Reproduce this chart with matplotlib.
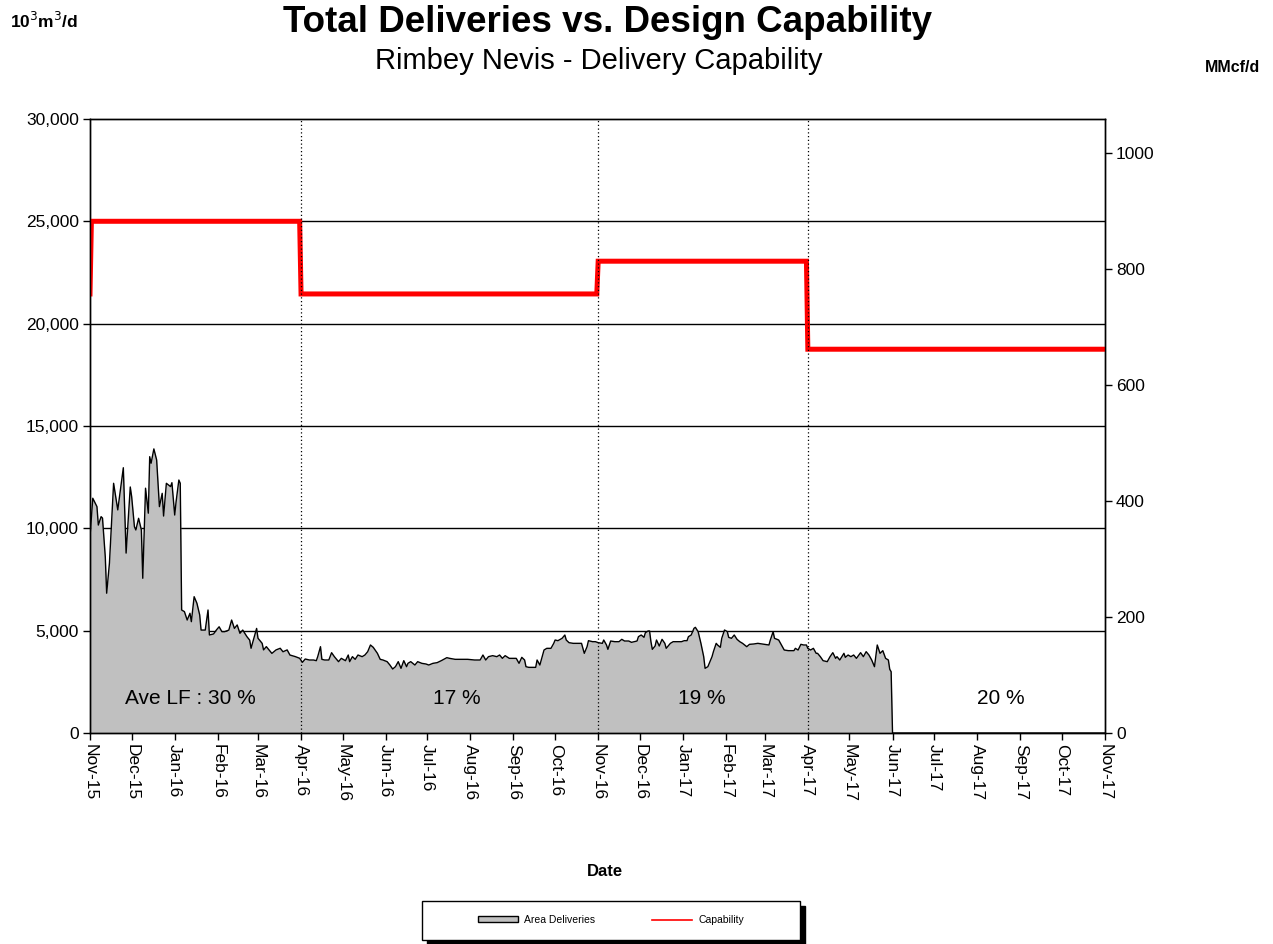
import numpy as np
import matplotlib.pyplot as plt
import matplotlib.dates as mdates
from matplotlib.patches import Rectangle, Patch
from matplotlib.lines import Line2D
from matplotlib.ticker import FuncFormatter, MultipleLocator

plt.rcParams['font.family'] = ['Liberation Sans', 'DejaVu Sans']

# dias contados desde el 1 de noviembre de 2015
inicio = np.datetime64('2015-11-01')
fin = np.datetime64('2017-11-01')

dias_entrega = [
    0, 2, 5, 6, 8, 9, 11, 12, 14, 17, 20, 24, 26, 29, 30, 32, 33, 35, 37, 38,
    40, 42, 43, 44, 46, 48, 50, 52, 53, 55, 58, 59, 61, 62, 64, 65, 66, 68, 70, 72,
    73, 75, 77, 79, 80, 83, 85, 86, 89, 91, 93, 95, 97, 100, 102, 104, 106, 108, 110, 113,
    115, 116, 118, 120, 121, 124, 125, 127, 131, 134, 137, 139, 142, 144, 148, 151,
    153, 155, 158, 161, 163, 164, 166, 167, 169, 172, 174, 176, 179, 181, 184, 186, 187, 189,
    191, 193, 196, 198, 200, 202, 204, 207, 209, 211, 214, 216, 218, 220, 222, 224, 226, 228,
    229, 231, 234, 236, 239, 242, 244, 247, 250, 253, 257, 259,
    263, 268, 272, 277, 281, 283, 285, 287, 290, 293, 295, 297, 299, 302, 305, 307, 309, 311,
    313, 314, 316, 319, 321, 322, 324, 327, 329, 332, 334, 335, 337, 340, 342, 343, 345, 348,
    352, 354, 356, 358, 359, 362, 364, 366,
    369, 370, 372, 373, 375, 378, 381, 383, 385, 388, 390, 394, 395, 397, 399, 400, 402, 403,
    404, 405, 407, 408, 410, 412, 414, 415, 418, 420, 424, 426, 428, 430, 431, 433, 435, 436,
    438, 440, 442, 443, 445, 448, 449, 451, 452, 454, 455, 457, 459, 460, 462, 464, 466, 468,
    470, 473, 475,
    478, 481, 486, 489, 490, 492, 493, 496, 498, 500, 503, 507, 508, 510, 512, 514, 516, 517,
    519, 521, 523, 524, 526, 528, 531, 533, 535, 537, 538, 540, 543, 544, 546, 548, 550, 552,
    555, 557, 559, 561, 563, 565, 567, 569, 571, 573, 575, 576, 577, 578, 731,
]
entregas = [
    9590, 11470, 11060, 10160, 10570, 10500, 8610, 6830, 8300, 12200,
    10900, 12960, 8790, 12020, 11550, 10080, 9920, 10490, 9920, 7560,
    11960, 10740, 13500, 13180, 13880, 13340, 11060, 11710, 10600, 12200,
    12040, 12230, 10650, 11300, 12360, 12200, 6010, 5930, 5520, 5850,
    5440, 6660, 6340, 5770, 5030, 5030, 6010, 4790, 4840, 5030,
    5190, 4950, 4950, 5030, 5520, 5110, 5280, 4870, 5030, 4710,
    4540, 4140, 4630, 5110, 4630, 4380, 4060, 4220, 3890, 4060,
    4140, 3970, 4060, 3810, 3730, 3650,
    3453, 3616, 3567, 3567, 3534, 3730, 4218, 3600, 3567, 3567, 3925, 3730, 3486, 3648,
    3534, 3811, 3486, 3730, 3600, 3811, 3730, 3811, 3974, 4300, 4186, 3893, 3600, 3567,
    3486, 3322, 3127, 3241, 3486, 3160, 3534, 3241, 3404, 3486, 3322, 3486, 3404, 3371,
    3322, 3404, 3437, 3534, 3681, 3648,
    3600, 3600, 3600, 3567, 3567, 3811, 3567, 3730, 3779, 3730, 3811, 3648, 3779, 3648,
    3648, 3648, 3404, 3697, 3567, 3241, 3208, 3208, 3208, 3567, 3322, 4055, 4137, 4137,
    4381, 4544, 4511, 4626, 4788, 4544, 4414, 4381, 4381, 4381, 3893, 4218, 4511, 4462,
    4462, 4414,
    4381, 4544, 4300, 4088, 4495, 4462, 4462, 4577, 4495, 4495, 4430, 4495, 4707, 4788,
    4674, 4902, 4984, 4984, 4462, 4088, 4251, 4544, 4251, 4577, 4381, 4137, 4381, 4462,
    4462, 4462, 4511, 4511, 4707, 4788, 5114, 5163, 4951, 4381, 3730, 3160, 3241, 3730,
    3974, 4381, 4300, 4186, 4626, 5033, 4951, 4674, 4626, 4788, 4577, 4462, 4381, 4218,
    4333,
    4349, 4381, 4333, 4300, 4544, 4951, 4626, 4544, 4300, 4055, 4023, 4023, 4137, 4055,
    4333, 4300, 4300, 4137, 4055, 4137, 3893, 3893, 3730, 3534, 3486, 3730, 3925, 3648,
    3730, 3567, 3893, 3697, 3811, 3730, 3811, 3648, 3925, 3730, 3974, 3811, 3567, 3241,
    4300, 3893, 4023, 3648, 3567, 3111, 2996, 0, 0,
]

dias_cap = [0, 1, 151, 152, 365, 366, 516, 517, 731]
capacidad = [21450, 25000, 25000, 21450, 21450, 23050, 23050, 18750, 18750]

cortes = ['2016-04-01', '2016-11-01', '2017-04-01']
etiquetas_lf = ['Ave LF : 30 %', '17 %', '19 %', '20 %']
fechas_lf = ['2016-01-12', '2016-07-22', '2017-01-15', '2017-08-18']

factor = 0.0353147  # MMcf por 10^3 m3

fechas = inicio + np.array(dias_entrega).astype('timedelta64[D]')
fechas_cap = inicio + np.array(dias_cap).astype('timedelta64[D]')

fig = plt.figure(figsize=(12.73, 9.44), dpi=100)
ax = fig.add_axes([0.0707, 0.2235, 0.7973, 0.6505])

for y in range(5000, 30000, 5000):
    ax.axhline(y, color='black', lw=1.0, zorder=1)

ax.fill_between(fechas, entregas, 0, color='#c0c0c0', lw=0, zorder=2)
ax.plot(fechas, entregas, color='black', lw=1.0, zorder=3)
ax.plot(fechas_cap, capacidad, color='#ff0000', lw=3.6, zorder=4,
        solid_joinstyle='miter')

for c in cortes:
    ax.axvline(np.datetime64(c), color='black', lw=0.9, ls=(0, (1, 2)), zorder=5)

for txt, f in zip(etiquetas_lf, fechas_lf):
    ax.text(np.datetime64(f), 1700, txt, ha='center', va='center', fontsize=15)

ax.set_xlim(inicio, fin)
ax.set_ylim(0, 30000)
ax.yaxis.set_major_locator(MultipleLocator(5000))
ax.yaxis.set_major_formatter(FuncFormatter(lambda v, p: f'{int(v):,}'))
ax.xaxis.set_major_locator(mdates.MonthLocator())
ax.xaxis.set_major_formatter(mdates.DateFormatter('%b-%y'))
ax.tick_params(axis='x', labelrotation=270, labelsize=12.5, length=5, width=1, pad=3)
ax.tick_params(axis='y', labelsize=12.5, length=5, width=1, pad=3)
for lbl in ax.get_xticklabels():
    lbl.set_va('top')
    lbl.set_ha('center')

ax2 = ax.twinx()
ax2.set_ylim(0, 30000 * factor)
ax2.yaxis.set_major_locator(MultipleLocator(200))
ax2.tick_params(axis='y', labelsize=12.5, length=5, width=1, pad=3)

for a in (ax, ax2):
    for s in a.spines.values():
        s.set_linewidth(1.0)

fig.text(0.4775, 0.976, 'Total Deliveries vs. Design Capability', ha='center',
         va='center', fontsize=26.5, fontweight='bold')
fig.text(0.4707, 0.935, 'Rimbey Nevis - Delivery Capability', ha='center',
         va='center', fontsize=21)
fig.text(0.008, 0.978, '10$^3$m$^3$/d', ha='left', va='center', fontsize=12.5,
         fontweight='bold')
fig.text(0.99, 0.928, 'MMcf/d', ha='right', va='center', fontsize=11.5,
         fontweight='bold')
fig.text(0.475, 0.077, 'Date', ha='center', va='center', fontsize=12,
         fontweight='bold')

# caja de la leyenda con sombra negra
x0, y0, w, h = 422 / 1273, 1 - 940 / 944, 378 / 1273, 39 / 944
fig.patches.append(Rectangle((x0 + 5 / 1273, y0 - 5 / 944), w, h, transform=fig.transFigure,
                             facecolor='black', edgecolor='black', zorder=1))
fig.patches.append(Rectangle((x0, y0), w, h, transform=fig.transFigure,
                             facecolor='white', edgecolor='black', lw=1.0, zorder=2))
handles = [Patch(facecolor='#c0c0c0', edgecolor='black', lw=1.0),
           Line2D([], [], color='#ff0000', lw=1.2)]
fig.legend(handles, ['Area Deliveries', 'Capability'], loc='center',
           bbox_to_anchor=(611 / 1273, 1 - 920 / 944), ncol=2, frameon=False,
           fontsize=7.5, handlelength=3.8, handleheight=0.5, handletextpad=0.6,
           columnspacing=5.5)

fig.savefig('out.png', dpi=100)
